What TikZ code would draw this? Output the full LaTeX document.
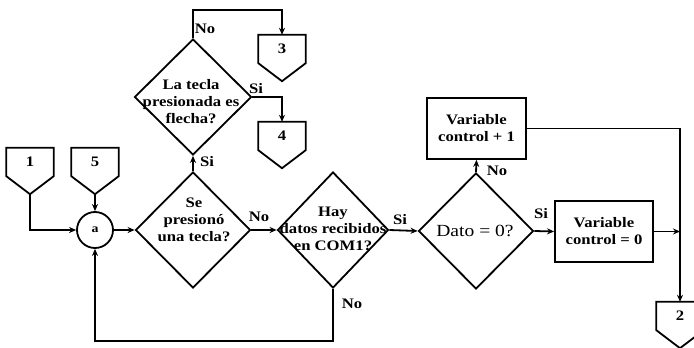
\documentclass[tikz,border=0pt]{standalone}
\usepackage{fontspec}
\setmainfont{Liberation Serif}
\newfontfamily\flowfont[FakeStretch=1.15]{Liberation Serif}
\usetikzlibrary{shapes.geometric,arrows.meta,calc}
\newcommand\offpagedraw[1]{%
  \draw[ln] (#1.north west) -- (#1.north east) -- (#1.south east)
    -- ([yshift=-18pt]#1.south) -- (#1.south west) -- cycle;
  \coordinate (#1tip) at ([yshift=-18pt]#1.south);}
\begin{document}
\begin{tikzpicture}[x=1pt,y=-1pt,
  ln/.style={line width=1.8pt,line join=miter},
  arr/.style={ln,-{Stealth[length=7pt,width=6pt]}},
  dia/.style={diamond,draw,line width=1.8pt,inner sep=0pt,minimum width=#1,minimum height=116pt},
  dia/.default=115pt,
  txt/.style={align=center,inner sep=0pt,font=\flowfont\bfseries\fontsize{14.5}{17}\selectfont},
  lbl/.style={inner sep=0pt,font=\flowfont\bfseries\fontsize{14.5}{17}\selectfont},
  boxx/.style={draw,line width=1.8pt,minimum width=99pt,minimum height=61pt,inner sep=0pt,align=center,font=\flowfont\bfseries\fontsize{14.5}{17}\selectfont},
  conn/.style={minimum width=47pt,minimum height=28pt,inner sep=0pt,font=\flowfont\bfseries\fontsize{14.5}{17}\selectfont},
]
\useasboundingbox[fill=white] (0,0) rectangle (694,348);

% off-page connectors
\node[conn] (c1) at (30,162) {1};
\node[conn] (c5) at (95,162) {5};
\node[conn] (c3) at (282,49) {3};
\node[conn] (c4) at (282,136) {4};
\node[conn] (c2) at (680,316) {2};
\offpagedraw{c1}
\offpagedraw{c5}
\offpagedraw{c3}
\offpagedraw{c4}
\offpagedraw{c2}

% junction circle
\node[circle,draw,line width=1.8pt,minimum size=36pt,inner sep=0pt,font=\flowfont\bfseries\fontsize{12}{14}\selectfont] (a) at (95,230) {a};

% decisions
\node[dia] (d1) at (193,230) {};
\node[txt] (t1) at (194,220) {Se\\presionó\\una tecla?};
\node[dia=117pt] (dt) at (193,97) {};
\node[txt] (tt) at (191,102) {La tecla\\presionada es\\flecha?};
\node[dia=111pt] (d2) at (333,230) {};
\node[txt] (t2) at (333,229) {Hay\\datos recibidos\\en COM1?};
\node[dia] (d3) at (476,231) {};
\node[inner sep=0pt,font=\flowfont\fontsize{17}{20}\selectfont] (t3) at (475,231) {Dato = 0?};

% process boxes
\node[boxx] (b1) at (476.5,128.5) {Variable\\control + 1};
\node[boxx,minimum width=98pt] (b2) at (604,231.5) {Variable\\control = 0};

% connectors
\draw[arr] (c1tip) |- (a.west);
\draw[arr] (c5tip) -- (a.north);
\draw[arr] (a.east) -- (d1.west);
\draw[arr] (d1.north) -- (dt.south);
\draw[arr] (dt.north) -- ++(0,-28) -| (c3.north);
\draw[arr] (dt.east) -| (c4.north);
\draw[arr] (d1.east) -- (d2.west);
\draw[arr] (d2.east) -- (d3.west);
\draw[arr] (d2.south) -- ++(0,52) -| (a.south);
\draw[arr] (d3.north) -- (b1.south);
\draw[arr] (d3.east) -- (b2.west);
\coordinate (j) at (c2.north |- b2.east);
\draw[arr] (b1.east) -| (c2.north);
\draw[arr] (b2.east) -- (j);

% labels
\node[lbl] (lno1) at (205,29) {No};
\node[lbl] (lsi1) at (256,89) {Si};
\node[lbl] (lsi2) at (207,162) {Si};
\node[lbl] (lno2) at (259,217) {No};
\node[lbl] (lsi3) at (400,220) {Si};
\node[lbl] (lno3) at (352,304) {No};
\node[lbl] (lno4) at (497,171) {No};
\node[lbl] (lsi4) at (541,214) {Si};
\end{tikzpicture}
\end{document}
